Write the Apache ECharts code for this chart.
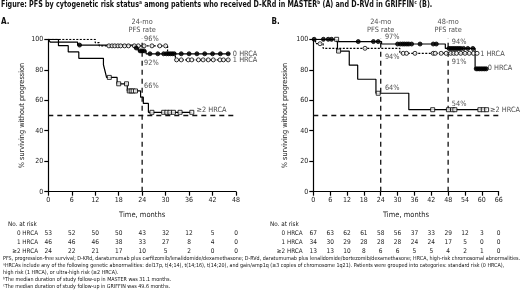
<!DOCTYPE html>
<html>
<head>
<meta charset="utf-8">
<script src="https://cdn.jsdelivr.net/npm/echarts@6/dist/echarts.min.js"></script>
<style>
html, body { margin: 0; padding: 0; background: #fff; }
#chart { width: 520px; height: 301px; }
</style>
</head>
<body>
<div id="chart"></div>
<script>
/*** PFS by cytogenetic risk status ***/
var FONT = '"Liberation Sans Narrow", "DejaVu Sans Condensed", "Arial Narrow", sans-serif';

// x ticks
var ticksA = [0, 6, 12, 18, 24, 30, 36, 42, 48];
var ticksB = [0, 6, 12, 18, 24, 30, 36, 42, 48, 54, 60, 66];

// number at risk
var riskA0 = [53, 52, 50, 50, 43, 32, 12, 5, 0];
var riskA1 = [46, 46, 46, 38, 33, 27, 8, 4, 0];
var riskA2 = [24, 22, 21, 17, 10, 5, 2, 0, 0];
var riskB0 = [67, 63, 62, 61, 58, 56, 37, 33, 29, 12, 3, 0];
var riskB1 = [34, 30, 29, 28, 28, 28, 24, 24, 17, 5, 0, 0];
var riskB2 = [13, 13, 10, 8, 6, 6, 5, 5, 4, 2, 1, 0];

// panel A (MASTER) KM steps [month, %]
var a0Steps = [[0, 100], [0.5, 98.1], [7.5, 96.2], [22, 94.3], [23, 92.4], [25, 90.5], [46.5, 90.5]];
var a0Censor = [8, 22.5, 23.5, 24, 24.5, 26, 28, 29.5, 30.2, 30.7, 31.2, 31.7, 32.2, 34, 36, 38, 40, 42, 44, 46];
var a1Steps = [[0, 100], [12, 97.8], [13, 95.7], [30.5, 91.2], [32.5, 86.5], [46.5, 86.5]];
var a1Censor = [15.5, 16.3, 17, 17.8, 18.5, 19.5, 20.5, 22, 23, 24.5, 26.5, 28.5, 30, 32.8, 34, 35.8, 36.7, 38.4, 39.6, 40.9, 42.2, 43.9, 44.8, 46];
var a2Steps = [[0, 100], [2.6, 95.8], [5.1, 91.7], [7.8, 87.5], [14.1, 83.3], [14.5, 79.2], [14.9, 75], [17.6, 70.8], [20.2, 66.1], [23.6, 62], [24.3, 57.9], [25.6, 52.1], [36.8, 52.1]];
var a2Censor = [15.6, 18, 20, 20.7, 21.2, 21.7, 22.3, 26.5, 29.5, 30.3, 31.1, 32, 33.7, 36.7];

// panel B (GRIFFIN)
var b0Steps = [[0, 100], [8.3, 98.5], [24.3, 96.9], [47, 94], [57.6, 80.6], [61.8, 80.6]];
var b0Censor = [0.3, 3.6, 5.3, 6.5, 16, 21.4, 23.1, 30, 31, 31.8, 32.5, 33.3, 34, 35, 38, 42.7, 43.8, 48.3, 49, 49.7, 50.4, 51.1, 51.8, 52.5, 53.5, 55, 56.8, 58, 58.6, 59.2, 59.8, 60.4, 61, 61.6];
var b1Steps = [[0, 100], [0.8, 97.1], [3.5, 94.1], [30.8, 90.8], [58.5, 90.8]];
var b1Censor = [2.4, 18.4, 32, 33.2, 36.2, 42.7, 43.4, 45.5, 47.3, 48.9, 50, 51, 52.5, 54, 55.5, 57, 58.3];
var b2Steps = [[0, 100], [8.6, 92.3], [12.8, 83], [15.8, 73.8], [22.3, 64.6], [34, 53.8], [61.8, 53.8]];
var b2Censor = [8.3, 9, 23.1, 42.5, 48.1, 49.6, 50.4, 59.3, 60.5, 61.7];

// in-plot labels [month, %, text]
var pctA = [[24.5, 100, '96%'], [24.5, 84.7, '92%'], [24.5, 69.4, '66%']];
var pctB = [[25.5, 101.3, '97%'], [25.5, 88.2, '94%'], [25.5, 67.8, '64%'], [49.3, 98.4, '94%'], [49.3, 84.9, '91%'], [49.3, 57.5, '54%']];
var endA = [[47.2, 90.2, '0 HRCA'], [47.2, 86.4, '1 HRCA'], [37.9, 53.6, '\u22652 HRCA']];
var endB = [[59.4, 90.2, '1 HRCA'], [62.1, 81, '0 HRCA'], [62.9, 53.6, '\u22652 HRCA']];
var headA = [[24, 108.8, '24-mo\nPFS rate']];
var headB = [[24, 108.8, '24-mo\nPFS rate'], [48, 108.8, '48-mo\nPFS rate']];

function stepAt(steps, t) {
	var v = steps[0][1];
	for (var i = 0; i < steps.length; i++) {
		if (steps[i][0] <= t) v = steps[i][1];
	}
	return v;
}

function censorPts(steps, times) {
	return times.map(function(t) { return [t, stepAt(steps, t)]; });
}

var chart = echarts.init(document.getElementById('chart'), null, { renderer: 'canvas' });

var grids = [
	{ left: 48.3, top: 39.3, width: 187.7, height: 152.4 },
	{ left: 313.3, top: 39.3, width: 185.4, height: 152.4 }
];

function mainX(gi, max) {
	return {
		type: 'value', gridIndex: gi, min: 0, max: max, interval: 6,
		name: 'Time, months', nameLocation: 'middle', nameGap: 19.5,
		nameTextStyle: { fontFamily: FONT, fontSize: 7.5, color: '#222' },
		axisLine: { lineStyle: { color: '#000', width: 1.2 } },
		axisTick: { length: 4, lineStyle: { color: '#000', width: 1.2 } },
		axisLabel: { fontFamily: FONT, fontSize: 7, color: '#222', margin: 5 },
		splitLine: { show: false }
	};
}

function riskX(gi, max, risk, label, offset, gap) {
	return {
		type: 'value', gridIndex: gi, min: 0, max: max, interval: 6, position: 'bottom', offset: offset,
		name: label, nameLocation: 'start', nameGap: gap,
		nameTextStyle: { fontFamily: FONT, fontSize: 6.3, color: '#222', verticalAlign: 'middle' },
		axisLine: { show: false }, axisTick: { show: false }, splitLine: { show: false },
		axisLabel: {
			fontFamily: FONT, fontSize: 6.5, color: '#222', margin: 0, verticalAlign: 'middle',
			formatter: function(v) { return risk[Math.round(v / 6)]; }
		}
	};
}

function yAx(gi, gap) {
	return {
		type: 'value', gridIndex: gi, min: 0, max: 100, interval: 20,
		name: '% surviving without progression', nameLocation: 'middle', nameGap: gap, nameRotate: 90,
		nameTextStyle: { fontFamily: FONT, fontSize: 7.3, color: '#222' },
		axisLine: { show: true, lineStyle: { color: '#000', width: 1.2 } },
		axisTick: { show: true, length: 4, lineStyle: { color: '#000', width: 1.2 } },
		axisLabel: { fontFamily: FONT, fontSize: 7, color: '#222', margin: 5 },
		splitLine: { show: false }
	};
}

function refLine(xi, yi, data) {
	return {
		type: 'line', xAxisIndex: xi, yAxisIndex: yi, data: data, symbol: 'none', silent: true, z: 1,
		lineStyle: { color: '#111', width: 1.3, type: [5, 4] }
	};
}

function curve(xi, yi, steps, dash) {
	return {
		type: 'line', xAxisIndex: xi, yAxisIndex: yi, step: 'end', data: steps, symbol: 'none', z: 3,
		lineStyle: { color: '#000', width: 1.2, type: dash || 'solid' }
	};
}

function marks(xi, yi, pts, shape, filled, size) {
	return {
		type: 'scatter', xAxisIndex: xi, yAxisIndex: yi, data: pts, symbol: shape, symbolSize: size, z: 4,
		itemStyle: { color: filled ? '#000' : '#fff', borderColor: '#000', borderWidth: 1 }
	};
}

function texts(xi, yi, pts, align, size) {
	return {
		type: 'scatter', xAxisIndex: xi, yAxisIndex: yi, clip: false, symbolSize: 0, z: 5, silent: true,
		data: pts.map(function(p) { return { value: [p[0], p[1]], name: p[2] }; }),
		label: {
			show: true, position: 'inside', formatter: '{b}', align: align, verticalAlign: 'middle',
			fontFamily: FONT, fontSize: size, color: '#222', lineHeight: 8.5
		}
	};
}

var xAxes = [
	mainX(0, 48),
	mainX(1, 66),
	riskX(0, 48, riskA0, '0 HRCA', 41.6, 10.3),
	riskX(0, 48, riskA1, '1 HRCA', 51, 10.3),
	riskX(0, 48, riskA2, '\u22652 HRCA', 60, 10.3),
	riskX(1, 66, riskB0, '0 HRCA', 41.6, 10.6),
	riskX(1, 66, riskB1, '1 HRCA', 51, 10.6),
	riskX(1, 66, riskB2, '\u22652 HRCA', 60, 10.6)
];

var series = [
	refLine(0, 0, [[24, 0], [24, 101]]),
	refLine(0, 0, [[0, 50], [48, 50]]),
	curve(0, 0, a1Steps, [2, 1.5]),
	curve(0, 0, a0Steps),
	curve(0, 0, a2Steps),
	marks(0, 0, censorPts(a1Steps, a1Censor), 'circle', false, 4),
	marks(0, 0, censorPts(a0Steps, a0Censor), 'circle', true, 4),
	marks(0, 0, censorPts(a2Steps, a2Censor), 'rect', false, 4),
	texts(0, 0, pctA, 'left', 7.3),
	texts(0, 0, endA, 'left', 7.3),
	texts(0, 0, headA, 'center', 7.3),

	refLine(1, 1, [[24, 0], [24, 101]]),
	refLine(1, 1, [[48, 0], [48, 101]]),
	refLine(1, 1, [[0, 50], [66, 50]]),
	curve(1, 1, b1Steps, [2, 1.5]),
	curve(1, 1, b0Steps),
	curve(1, 1, b2Steps),
	marks(1, 1, censorPts(b1Steps, b1Censor), 'circle', false, 4),
	marks(1, 1, censorPts(b0Steps, b0Censor), 'circle', true, 4),
	marks(1, 1, censorPts(b2Steps, b2Censor), 'rect', false, 4),
	texts(1, 1, pctB, 'left', 7.3),
	texts(1, 1, endB, 'left', 7.3),
	texts(1, 1, headB, 'center', 7.3)
];

var notes = [
	'PFS, progression-free survival; D-KRd, daratumumab plus carfilzomib/lenalidomide/dexamethasone; D-RVd, daratumumab plus lenalidomide/bortezomib/dexamethasone; HRCA, high-risk chromosomal abnormalities.',
	'\u1d43HRCAs include any of the following genetic abnormalities: del17p, t(4;14), t(14;16), t(14;20), and gain/amp1q (\u22653 copies of chromosome 1q21). Patients were grouped into categories: standard risk (0 HRCA),',
	'high risk (1 HRCA), or ultra-high risk (\u22652 HRCA).',
	'\u1d47The median duration of study follow-up in MASTER was 31.1 months.',
	'\u1d9cThe median duration of study follow-up in GRIFFIN was 49.6 months.'
];

// graphic text, sx squeezes the glyphs sideways
function txt(x, y, s, font, sx) {
	return { type: 'text', x: x, y: y, scaleX: sx || 1, silent: true,
		style: { text: s, font: font, fill: '#111', textVerticalAlign: 'middle' } };
}

var graphics = [
	txt(1, 5, 'Figure: PFS by cytogenetic risk status\u1d43 among patients who received D-KRd in MASTER\u1d47 (A) and D-RVd in GRIFFIN\u1d9c (B).', 'bold 8.6px ' + FONT, 0.83),
	txt(1, 21.7, 'A.', 'bold 8px ' + FONT),
	txt(271.5, 21.7, 'B.', 'bold 8px ' + FONT),
	txt(8, 224, 'No. at risk', '6.3px ' + FONT),
	txt(270, 224, 'No. at risk', '6.3px ' + FONT)
];
for (var i = 0; i < notes.length; i++) {
	graphics.push(txt(3, 258.5 + i * 7, notes[i], '5.5px ' + FONT, 0.97));
}

var option = {
	animation: false,
	backgroundColor: '#fff',
	grid: grids,
	xAxis: xAxes,
	yAxis: [yAx(0, 23), yAx(1, 24.5)],
	series: series,
	graphic: graphics
};
chart.setOption(option, true);
</script>
</body>
</html>
